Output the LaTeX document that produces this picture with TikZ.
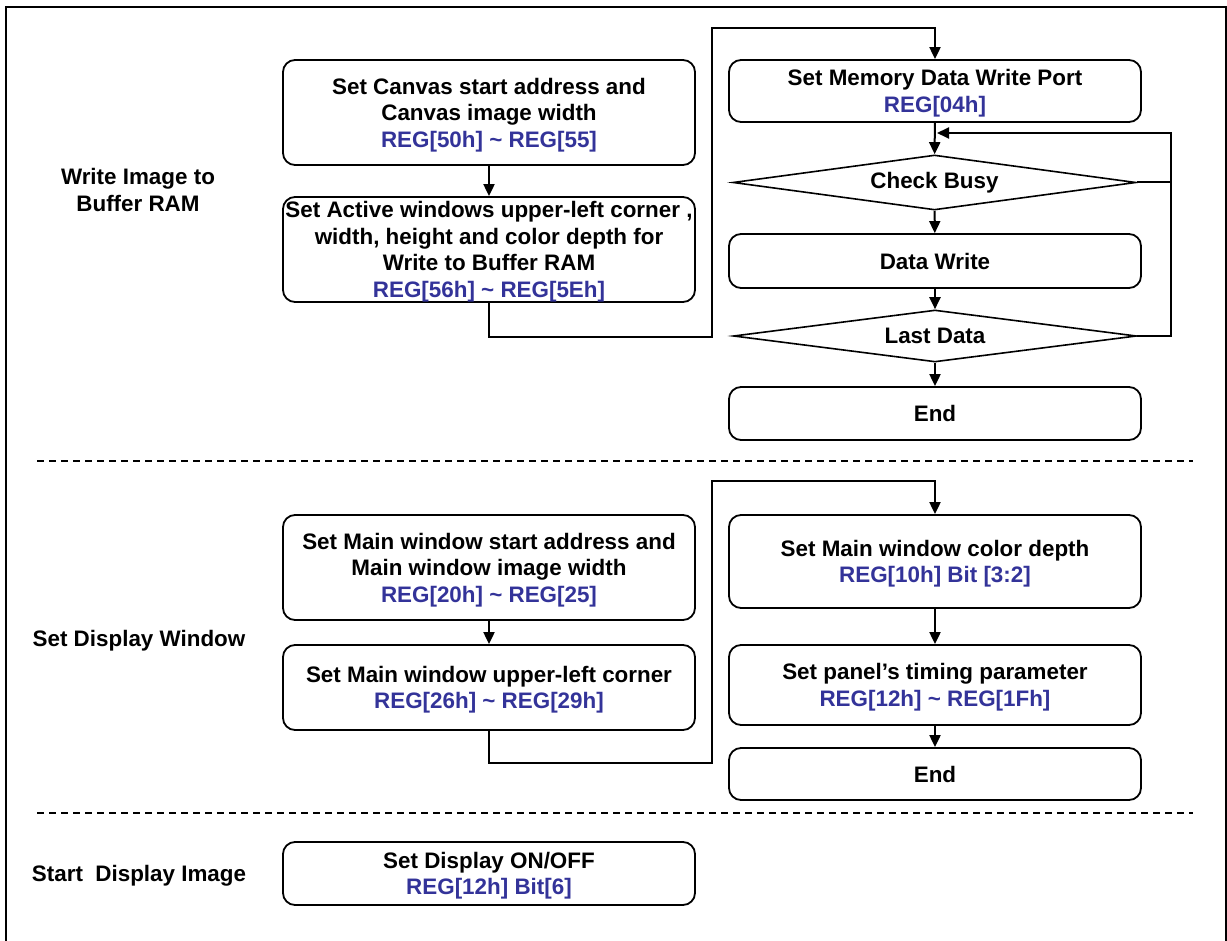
\documentclass[tikz,border=0pt]{standalone}
\usepackage{fontspec}
\setmainfont{Liberation Sans}
\usepackage{tikz,xcolor}
\usetikzlibrary{arrows.meta,shapes.geometric,calc}

\definecolor{regblue}{RGB}{51,51,153}
\newcommand{\reg}[1]{\textcolor{regblue}{#1}}

\begin{document}
\begin{tikzpicture}[x=1pt,y=-1pt,
  every node/.style={font=\fontsize{22.4}{26.5}\selectfont\bfseries},
  box/.style={draw, rounded corners=12pt, line width=1.8pt, minimum width=412pt, align=center, inner sep=0pt, text depth=0pt},
  dmd/.style={draw, diamond, aspect=7.3, line width=1.6pt, minimum width=403pt, inner sep=0pt},
  arr/.style={line width=2pt, -{Triangle[length=12pt,width=11pt]}},
  lnk/.style={line width=2pt}]
\useasboundingbox (0,0) rectangle (1227,941);

% frame
\draw[line width=2pt] (6,945) -- (6,7) -- (1226,7) -- (1226,945);

% section labels
\node[align=center] (lwrite) at (138,190) {Write Image to\\Buffer RAM};
\node (lset) at (139,641) {Set Display Window};
\node (lstart) at (139,876) {Start\ \ Display Image};

% dashed separators
\draw[line width=1.2pt, dash pattern=on 7pt off 5pt] (37,461) -- (1193,461);
\draw[line width=1.2pt, dash pattern=on 7pt off 5pt] (37,813) -- (1193,813);

%write image to buffer RAM
\node[box, minimum height=105pt] (canvas) at (489,112.5) {Set Canvas start address and\\Canvas image width\\\reg{REG[50h] \textasciitilde{} REG[55]}};
\node[box, minimum height=105pt] (active) at (489,249.5) {Set Active windows upper-left corner ,\\width, height and color depth for\\Write to Buffer RAM\\\reg{REG[56h] \textasciitilde{} REG[5Eh]}};

\node[box, minimum height=62pt] (port) at (935,91) {Set Memory Data Write Port\\\reg{REG[04h]}};
\node[dmd, minimum height=55pt] (busy) at (934.5,182.5) {Check Busy};
\node[box, minimum height=54pt] (write) at (935,261) {Data Write};
\node[dmd, minimum height=52pt] (last) at (935,336) {Last Data};
\node[box, minimum height=53pt] (end) at (935,413.5) {End};

\coordinate (J1) at (712,28);
\coordinate (L1) at (1171,133);

\draw[arr] (canvas) -- (active);
\draw[arr] (active.south) -- ($(active.south)+(0,34)$) -| (J1) -| (port.north);
\draw[arr] (port) -- (busy);
\draw[arr] (busy) -- (write);
\draw[arr] (write) -- (last);
\draw[arr] (last) -- (end);
% loop back
\draw[lnk] (busy.east) -- (busy.east -| L1);
\draw[arr] (last.east) -| (L1) -- ($(port.south |- L1)+(2,0)$);

%set display window
\node[box, minimum height=105pt] (mstart) at (489,567.5) {Set Main window start address and\\Main window image width\\\reg{REG[20h] \textasciitilde{} REG[25]}};
\node[box, minimum height=85pt] (mcorner) at (489,687.5) {Set Main window upper-left corner\\\reg{REG[26h] \textasciitilde{} REG[29h]}};

\node[box, minimum height=93pt] (depth) at (935,561.5) {Set Main window color depth\\\reg{REG[10h] Bit [3:2]}};
\node[box, minimum height=80pt] (timing) at (935,685) {Set panel's timing parameter\\\reg{REG[12h] \textasciitilde{} REG[1Fh]}};
\node[box, minimum height=52pt] (end2) at (935,774) {End};

\coordinate (J2) at (712,481);

\draw[arr] (mstart) -- (mcorner);
\draw[arr] (mcorner.south) -- ($(mcorner.south)+(0,32)$) -| (J2) -| (depth.north);
\draw[arr] (depth) -- (timing);
\draw[arr] (timing) -- (end2);

%start display image
\node[box, minimum height=63pt] (disp) at (489,873.5) {Set Display ON/OFF\\\reg{REG[12h] Bit[6]}};

\end{tikzpicture}
\end{document}
